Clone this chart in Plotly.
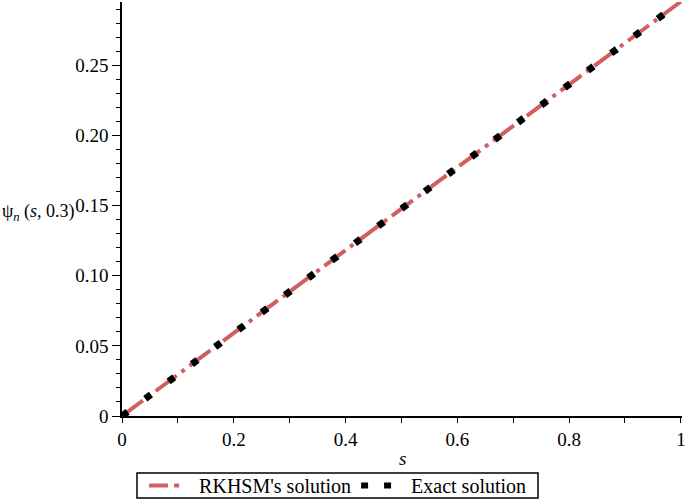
import plotly.graph_objects as go

# values
s_vals = [0.0, 0.1, 0.2, 0.3, 0.4, 0.5, 0.6, 0.7, 0.8, 0.9, 1.0]
psi_rkhsm = [0.0, 0.0296, 0.0591, 0.0887, 0.1182, 0.1478, 0.1773, 0.2069, 0.2364, 0.2660, 0.2955]
psi_exact = [0.0, 0.0296, 0.0591, 0.0887, 0.1182, 0.1478, 0.1773, 0.2069, 0.2364, 0.2660, 0.2955]

y_tickvals = [0, 0.05, 0.10, 0.15, 0.20, 0.25]
y_ticktext = ["0", "0.05", "0.10", "0.15", "0.20", "0.25"]
x_tickvals = [0, 0.2, 0.4, 0.6, 0.8, 1.0]
x_ticktext = ["0", "0.2", "0.4", "0.6", "0.8", "1"]

RED = "#d06060"
SERIF = "Liberation Serif"
NB = "\u00a0"

fig = go.Figure()

# -- curves (legend drawn by separate dummy traces) ---------------------
fig.add_trace(go.Scatter(x=s_vals, y=psi_rkhsm, mode="lines", showlegend=False,
                         line=dict(color=RED, width=4, dash="26px,6px,4px,6px")))
fig.add_trace(go.Scatter(x=s_vals, y=psi_exact, mode="lines", showlegend=False,
                         line=dict(color="black", width=7, dash="7px,22px")))

# -- legend entries -------------------------------------------------------
fig.add_trace(go.Scatter(x=[None], y=[None], mode="lines",
                         name=NB * 3 + "RKHSM's solution",
                         line=dict(color=RED, width=4, dash="19px,6px,5px")))
fig.add_trace(go.Scatter(x=[None], y=[None], mode="lines",
                         name=NB * 3 + "Exact solution",
                         line=dict(color="black", width=6, dash="7px,16px")))

axis_common = dict(showline=True, linecolor="black", linewidth=1.5,
                   ticks="outside", tickcolor="black", tickwidth=1.2,
                   showgrid=False, zeroline=False, automargin=False,
                   ticklabeloverflow="allow",
                   tickfont=dict(family=SERIF, size=19, color="black"))

fig.update_xaxes(range=[0, 1.002], tickvals=x_tickvals, ticktext=x_ticktext,
                 ticklen=5,
                 minor=dict(dtick=0.1, tick0=0, ticks="outside", ticklen=5,
                            tickcolor="black", tickwidth=1.2),
                 **axis_common)
fig.update_yaxes(range=[0, 0.2952], tickvals=y_tickvals, ticktext=y_ticktext,
                 ticklen=8,
                 minor=dict(dtick=0.01, tick0=0, ticks="outside", ticklen=4,
                            tickcolor="black", tickwidth=1.2),
                 **axis_common)

fig.add_annotation(text="ψ<sub><i>n</i></sub> (<i>s</i>, 0.3)", xref="paper", yref="paper",
                   x=-0.218, y=0.492, xanchor="left", yanchor="middle", showarrow=False,
                   font=dict(family=SERIF, size=18, color="black"))
fig.add_annotation(text="<i>s</i>", xref="paper", yref="paper",
                   x=0.5, y=-0.102, xanchor="center", yanchor="middle", showarrow=False,
                   font=dict(family=SERIF, size=19, color="black"))

# tight box around the legend (plotly's own border is taller than the original)
fig.add_shape(type="rect", xref="paper", yref="paper",
              x0=(137 - 122) / 560, x1=(538 - 122) / 560,
              y0=(416 - 498) / 414, y1=(416 - 473) / 414,
              line=dict(color="black", width=1.5), fillcolor="rgba(0,0,0,0)")

fig.update_layout(
    width=685, height=503,
    margin=dict(l=122, r=3, t=2, b=87, autoexpand=False),
    plot_bgcolor="white", paper_bgcolor="white",
    legend=dict(orientation="h", x=0.385, y=-0.168, xanchor="center", yanchor="middle",
                borderwidth=0, bgcolor="rgba(0,0,0,0)",
                font=dict(family=SERIF, size=20, color="black"),
                itemwidth=30, tracegroupgap=0),
)

fig.write_html("out.html", config={"displayModeBar": False},
               post_script="document.body.style.margin='0';document.body.style.overflow='hidden';")
